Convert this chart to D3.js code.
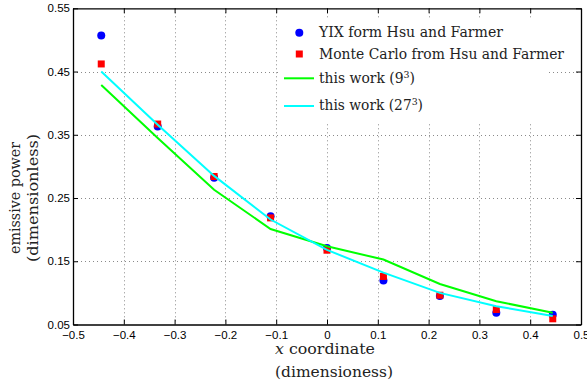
<!DOCTYPE html>
<html>
<head>
<meta charset="utf-8">
<script src="https://cdn.jsdelivr.net/npm/d3@7/dist/d3.min.js"></script>
<style>
  html, body { margin: 0; padding: 0; background: #fff; }
  svg { display: block; }
</style>
</head>
<body>
<script>
// Cell-centre x coordinates (9 cells across the unit domain)
const xCoords = [-0.4444, -0.3333, -0.2222, -0.1111, 0, 0.1111, 0.2222, 0.3333, 0.4444];

// Emissive power, reference results
const yixHsu   = [0.507, 0.363, 0.282, 0.221, 0.171, 0.1195, 0.095, 0.0685, 0.0655];
const mcHsu    = [0.462, 0.367, 0.284, 0.2186, 0.1675, 0.126, 0.0963, 0.0737, 0.059];

// Emissive power, present solutions
const work9    = [0.4287, 0.345, 0.263, 0.201, 0.1737, 0.1527, 0.114, 0.0868, 0.0685];
const work27   = [0.450, 0.366, 0.285, 0.216, 0.168, 0.132, 0.100, 0.079, 0.0635];

// Axis ticks and their labels
const xTicks = [-0.5, -0.4, -0.3, -0.2, -0.1, 0, 0.1, 0.2, 0.3, 0.4, 0.5];
const xTickLabels = ["\u22120.5", "\u22120.4", "\u22120.3", "\u22120.2", "\u22120.1", "0", "0.1", "0.2", "0.3", "0.4", "0.5"];
const yTicks = [0.05, 0.15, 0.25, 0.35, 0.45, 0.55];
const yTickLabels = ["0.05", "0.15", "0.25", "0.35", "0.45", "0.55"];

const W = 587, H = 385;
const plot = { left: 73, right: 581, top: 8.3, bottom: 324.5 };

const x = d3.scaleLinear().domain([-0.5, 0.5]).range([plot.left, plot.right]);
const y = d3.scaleLinear().domain([0.05, 0.55]).range([plot.bottom, plot.top]);

const serif = "'DejaVu Serif', serif";
const sans = "'Liberation Sans', Arial, sans-serif";

const svg = d3.select("body").append("svg").attr("width", W).attr("height", H);

// dotted grid
const grid = svg.append("g").attr("stroke", "#8a8a8a").attr("stroke-width", 1).attr("stroke-dasharray", "1,3");
grid.selectAll("line.gx").data(xTicks.slice(1, -1)).join("line")
  .attr("x1", d => Math.round(x(d)) + 0.5).attr("x2", d => Math.round(x(d)) + 0.5)
  .attr("y1", plot.top).attr("y2", plot.bottom);
grid.selectAll("line.gy").data(yTicks.slice(1, -1)).join("line")
  .attr("x1", plot.left).attr("x2", plot.right)
  .attr("y1", d => Math.round(y(d)) + 0.5).attr("y2", d => Math.round(y(d)) + 0.5);

// data series
const line = d3.line().x((d, i) => x(xCoords[i])).y(d => y(d));

svg.append("g").selectAll("circle").data(yixHsu).join("circle")
  .attr("cx", (d, i) => x(xCoords[i])).attr("cy", d => y(d)).attr("r", 4)
  .attr("fill", "#0000ff");
svg.append("g").selectAll("rect").data(mcHsu).join("rect")
  .attr("x", (d, i) => x(xCoords[i]) - 3.5).attr("y", d => y(d) - 3.5)
  .attr("width", 7).attr("height", 7).attr("fill", "#ff0000");

svg.append("path").datum(work9).attr("d", line)
  .attr("fill", "none").attr("stroke", "#00ff00").attr("stroke-width", 2);
svg.append("path").datum(work27).attr("d", line)
  .attr("fill", "none").attr("stroke", "#00ffff").attr("stroke-width", 2);

// axes with inward ticks on all four sides
function styleAxis(g) {
  g.selectAll("path.domain").attr("stroke", "#000").attr("stroke-width", 1.3);
  g.selectAll(".tick line").attr("stroke", "#000").attr("stroke-width", 1);
  g.selectAll("text").attr("font-family", sans).attr("font-size", "11.5px").attr("fill", "#000");
}
svg.append("g").attr("transform", `translate(0,${plot.bottom})`)
  .call(d3.axisBottom(x).tickValues(xTicks).tickFormat((d, i) => xTickLabels[i])
    .tickSizeInner(-5).tickSizeOuter(0).tickPadding(6))
  .call(styleAxis);
svg.append("g").attr("transform", `translate(${plot.left},0)`)
  .call(d3.axisLeft(y).tickValues(yTicks).tickFormat((d, i) => yTickLabels[i])
    .tickSizeInner(-5).tickSizeOuter(0).tickPadding(3))
  .call(styleAxis);
svg.append("g").attr("transform", `translate(0,${plot.top})`)
  .call(d3.axisTop(x).tickValues(xTicks).tickFormat("").tickSizeInner(-5).tickSizeOuter(0))
  .call(styleAxis);
svg.append("g").attr("transform", `translate(${plot.right},0)`)
  .call(d3.axisRight(y).tickValues(yTicks).tickFormat("").tickSizeInner(-5).tickSizeOuter(0))
  .call(styleAxis);

function fitWidth(sel, target) {
  const node = sel.node();
  const w = node.getComputedTextLength();
  if (w > 0) sel.attr("textLength", target).attr("lengthAdjust", "spacingAndGlyphs");
  return sel;
}

// legend
const legend = svg.append("g");
legend.append("rect").attr("x", 280).attr("y", 18).attr("width", 267).attr("height", 106).attr("fill", "#fff");
const legRows = [
  { kind: "circle", color: "#0000ff", cy: 32.7, base: 37.3, label: "YIX form Hsu and Farmer", w: 184 },
  { kind: "square", color: "#ff0000", cy: 54, base: 59, label: "Monte Carlo from Hsu and Farmer", w: 245 },
  { kind: "line", color: "#00ff00", cy: 78.3, base: 83.3, label: "this work (9", sup: "3", w: 96 },
  { kind: "line", color: "#00ffff", cy: 106, base: 110, label: "this work (27", sup: "3", w: 104 }
];
legRows.forEach(r => {
  if (r.kind === "circle") {
    legend.append("circle").attr("cx", 299.3).attr("cy", r.cy).attr("r", 4).attr("fill", r.color);
  } else if (r.kind === "square") {
    legend.append("rect").attr("x", 295.8).attr("y", r.cy - 3.5).attr("width", 7).attr("height", 7).attr("fill", r.color);
  } else {
    legend.append("line").attr("x1", 284).attr("x2", 314).attr("y1", r.cy).attr("y2", r.cy)
      .attr("stroke", r.color).attr("stroke-width", 2);
  }
  const t = legend.append("text").attr("x", 319).attr("y", r.base)
    .attr("font-family", serif).attr("font-size", "14px").attr("fill", "#222");
  t.append("tspan").text(r.label);
  if (r.sup) {
    t.append("tspan").attr("font-size", "9.5px").attr("dy", -5.5).text(r.sup);
    t.append("tspan").attr("dy", 5.5).text(")");
  }
  fitWidth(t, r.w);
});

// axis titles
const xt1 = svg.append("text").attr("x", 275).attr("y", 354)
  .attr("font-family", serif).attr("font-size", "15px").attr("fill", "#222");
xt1.append("tspan").attr("font-style", "italic").text("x");
xt1.append("tspan").text(" coordinate");
fitWidth(xt1, 100);
const xt2 = svg.append("text").attr("x", 275).attr("y", 376.7)
  .attr("font-family", serif).attr("font-size", "15px").attr("fill", "#222")
  .text("(dimensioness)");
fitWidth(xt2, 118);

const yt = svg.append("g").attr("transform", "translate(0,198) rotate(-90)");
const yt1 = yt.append("text").attr("x", 0).attr("y", 20).attr("text-anchor", "middle")
  .attr("font-family", serif).attr("font-size", "15px").attr("fill", "#222")
  .text("emissive power");
fitWidth(yt1, 112);
const yt2 = yt.append("text").attr("x", 0).attr("y", 37.5).attr("text-anchor", "middle")
  .attr("font-family", serif).attr("font-size", "15px").attr("fill", "#222")
  .text("(dimensionless)");
fitWidth(yt2, 128);
</script>
</body>
</html>
